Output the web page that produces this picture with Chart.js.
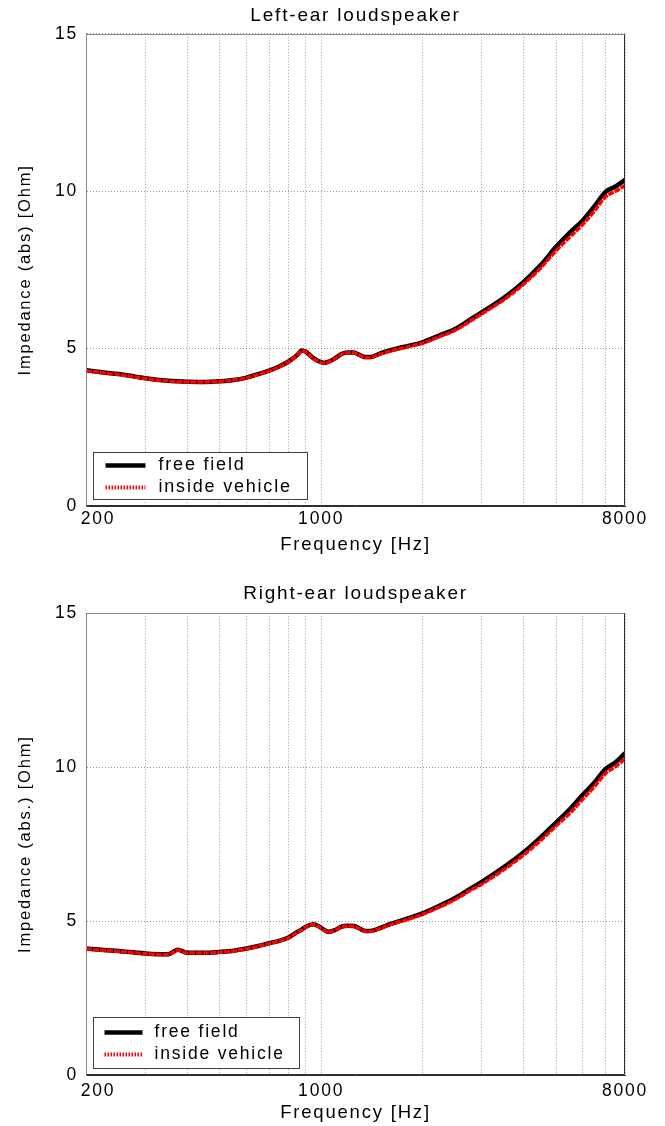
<!DOCTYPE html>
<html>
<head>
<meta charset="utf-8">
<script src="https://cdn.jsdelivr.net/npm/chart.js@4.4.1/dist/chart.umd.min.js"></script>
<style>
  html, body { margin: 0; padding: 0; background: #ffffff; }
  #wrap { position: relative; width: 665px; height: 1126px; overflow: hidden; }
  canvas { position: absolute; left: 0; }
</style>
</head>
<body>
<div id="wrap">
  <canvas id="leftEar" width="665" height="560" style="top:0px"></canvas>
  <canvas id="rightEar" width="665" height="561" style="top:565px"></canvas>
</div>
<script>
// ---------- data ----------
const frequencies = [200,225,250,280,300,350,375,400,450,500,550,600,650,700,750,800,850,875,900,950,
  1000,1025,1050,1100,1150,1200,1250,1300,1350,1400,1500,1600,1800,2000,2250,2500,2800,3000,3500,4000,
  4500,5000,5500,6000,6500,7000,7500,8000];

const leftFreeField = [4.31,4.24,4.19,4.11,4.06,3.98,3.96,3.95,3.94,3.96,4.00,4.08,4.19,4.30,4.43,4.59,4.80,4.94,4.90,4.69,
  4.57,4.55,4.58,4.69,4.83,4.88,4.88,4.80,4.73,4.73,4.85,4.94,5.08,5.20,5.42,5.62,5.95,6.15,6.62,7.12,
  7.66,8.24,8.70,9.08,9.53,9.98,10.15,10.36];
const leftInsideVehicle = [4.30,4.23,4.18,4.10,4.05,3.97,3.95,3.94,3.94,3.96,4.00,4.07,4.18,4.29,4.42,4.58,4.79,4.93,4.89,4.68,
  4.56,4.54,4.57,4.68,4.82,4.87,4.87,4.79,4.72,4.72,4.83,4.92,5.05,5.17,5.38,5.58,5.90,6.10,6.56,7.05,
  7.57,8.12,8.56,8.95,9.38,9.82,10.00,10.18];

const rightFreeField = [4.11,4.06,4.03,3.98,3.95,3.92,4.07,3.97,3.97,4.00,4.04,4.11,4.19,4.28,4.36,4.47,4.65,4.72,4.82,4.90,
  4.78,4.70,4.65,4.71,4.82,4.85,4.84,4.76,4.68,4.68,4.78,4.90,5.08,5.25,5.50,5.75,6.08,6.27,6.76,7.24,
  7.73,8.21,8.65,9.11,9.51,9.94,10.16,10.46];
const rightInsideVehicle = [4.10,4.05,4.02,3.97,3.94,3.91,4.06,3.96,3.96,3.99,4.03,4.10,4.18,4.27,4.35,4.46,4.64,4.71,4.81,4.89,
  4.77,4.69,4.64,4.70,4.81,4.84,4.83,4.75,4.67,4.67,4.76,4.88,5.05,5.22,5.46,5.70,6.02,6.20,6.68,7.15,
  7.63,8.10,8.52,8.97,9.38,9.80,10.02,10.28];

const seriesLabels = ['free field', 'inside vehicle'];
const xGridValues = [200,300,400,500,600,700,800,900,1000,2000,3000,4000,5000,6000,7000,8000];
const xLabelValues = [200,1000,8000];
const yTickValues = [0,5,10,15];
const panelTitles = ['Left-ear loudspeaker', 'Right-ear loudspeaker'];
const yAxisTitles = ['Impedance (abs) [Ohm]', 'Impedance (abs.) [Ohm]'];
const xAxisTitle = 'Frequency [Hz]';

// ---------- styling ----------
const FONT = "'Liberation Sans', Arial, Helvetica, sans-serif";
const LETTER_SPACING = '1.8px';
const FIRST_LABEL_SHIFT = 12;

const spacingPlugin = {
  id: 'spacing',
  beforeLayout(chart) { chart.ctx.letterSpacing = LETTER_SPACING; },
  beforeDraw(chart) { chart.ctx.letterSpacing = LETTER_SPACING; }
};

const framePlugin = {
  id: 'frameLegend',
  afterDraw(chart, args, opts) {
    const ctx = chart.ctx;
    const a = chart.chartArea;
    ctx.save();
    ctx.letterSpacing = LETTER_SPACING;
    // shifted first x label (200)
    const xs = chart.scales.x;
    const items = xs.getLabelItems();
    const it = items.find(i => i.label === String(xLabelValues[0]));
    if (it) {
      ctx.font = it.font.string;
      ctx.fillStyle = '#000';
      ctx.textAlign = it.options.textAlign;
      ctx.textBaseline = it.options.textBaseline;
      ctx.fillText(it.label, it.options.translation[0] + FIRST_LABEL_SHIFT, it.options.translation[1] + it.textOffset);
    }
    // frame
    ctx.lineWidth = 1;
    ctx.setLineDash([]);
    const L = Math.round(a.left) + 0.5, R = Math.round(a.right) - 0.5;
    const T = Math.round(a.top) + 0.5, B = Math.round(a.bottom) - 0.5;
    ctx.strokeStyle = '#8a8a8a';
    ctx.beginPath(); ctx.moveTo(L, B); ctx.lineTo(L, T); ctx.lineTo(R, T); ctx.stroke();
    ctx.strokeStyle = '#303030';
    ctx.beginPath(); ctx.moveTo(R, T); ctx.lineTo(R, B); ctx.lineTo(L, B); ctx.stroke();

    // legend box
    const o = opts;
    ctx.font = o.fontSize + 'px ' + FONT;
    const ds = chart.data.datasets;
    let maxW = 0;
    ds.forEach(d => { maxW = Math.max(maxW, ctx.measureText(d.label).width); });
    const bx = Math.round(a.left + o.offsetX) + 0.5;
    const by = Math.round(a.bottom - o.offsetBottom - o.height) + 0.5;
    const bw = Math.round(o.textX + maxW + o.padRight);
    ctx.fillStyle = '#ffffff';
    ctx.fillRect(bx, by, bw, o.height);
    ctx.strokeStyle = '#404040';
    ctx.lineWidth = 1;
    ctx.strokeRect(bx, by, bw, o.height);
    ds.forEach((d, i) => {
      const ry = by + o.rowY[i];
      ctx.save();
      ctx.strokeStyle = d.borderColor;
      ctx.lineWidth = o.sampleWidth[i];
      ctx.setLineDash(o.sampleDash[i]);
      ctx.beginPath();
      ctx.moveTo(bx + o.lineX[0], ry);
      ctx.lineTo(bx + o.lineX[1], ry);
      ctx.stroke();
      ctx.restore();
      ctx.fillStyle = '#000';
      ctx.textAlign = 'left';
      ctx.textBaseline = 'middle';
      ctx.fillText(d.label, bx + o.textX, ry);
    });
    ctx.restore();
  }
};

function makeChart(id, idx, freeVals, vehicleVals, lay) {
  const toPoints = vals => frequencies.map((f, i) => ({ x: f, y: vals[i] }));
  return new Chart(document.getElementById(id), {
    type: 'line',
    data: {
      datasets: [
        { label: seriesLabels[0], data: toPoints(freeVals), borderColor: '#000000', borderWidth: 4.5,
          order: 1, pointRadius: 0, cubicInterpolationMode: 'monotone', fill: false },
        { label: seriesLabels[1], data: toPoints(vehicleVals), borderColor: '#ff0000', borderWidth: 3.5,
          order: 0, borderDash: [6, 1], pointRadius: 0, cubicInterpolationMode: 'monotone', fill: false }
      ]
    },
    options: {
      responsive: false,
      animation: false,
      devicePixelRatio: 1,
      layout: { padding: { left: 0, right: 40, top: 0, bottom: 0 } },
      plugins: {
        legend: { display: false },
        tooltip: { enabled: false },
        title: {
          display: true, text: panelTitles[idx], fullSize: false, color: '#000',
          font: { family: FONT, size: 19, weight: 'normal' },
          padding: { top: lay.titleTop, bottom: lay.titleBottom }
        },
        frameLegend: lay.legend
      },
      scales: {
        x: {
          type: 'logarithmic', min: 200, max: 8000,
          afterBuildTicks: s => { s.ticks = xGridValues.map(v => ({ value: v })); },
          afterFit: s => { s.height = lay.xAxisHeight; },
          ticks: {
            autoSkip: false, maxRotation: 0, minRotation: 0, padding: lay.xTickPad,
            font: { family: FONT, size: 17.5 },
            color: c => (c.tick && c.tick.value === xLabelValues[0]) ? 'rgba(0,0,0,0)' : '#000',
            callback: v => xLabelValues.includes(v) ? String(v) : ''
          },
          grid: { color: '#9a9a9a', lineWidth: 1, drawTicks: false },
          border: { display: true, color: '#303030', width: 1, dash: [1, 2] },
          title: { display: true, text: xAxisTitle, color: '#000',
            font: { family: FONT, size: 18.5 }, padding: { top: 0, bottom: lay.xTitleBottom } }
        },
        y: {
          min: 0, max: 15,
          afterBuildTicks: s => { s.ticks = yTickValues.map(v => ({ value: v })); },
          afterFit: s => { s.width = 86; },
          ticks: { padding: 8, color: '#000', font: { family: FONT, size: 17.5 } },
          grid: { color: '#9a9a9a', lineWidth: 1, drawTicks: false },
          border: { display: true, color: '#8a8a8a', width: 1, dash: [1, 2] },
          title: { display: true, text: yAxisTitles[idx], color: '#000',
            font: { family: FONT, size: 16.5 }, padding: { top: 16, bottom: 0 } }
        }
      }
    },
    plugins: [spacingPlugin, framePlugin]
  });
}

makeChart('leftEar', 0, leftFreeField, leftInsideVehicle, {
  titleTop: 4, titleBottom: 7, xAxisHeight: 54, xTickPad: 3, xTitleBottom: 3.8,
  legend: { offsetX: 7, offsetBottom: 7, height: 47, rowY: [13, 35], lineX: [12, 52], textX: 65, padRight: 16,
    fontSize: 18, sampleWidth: [4.5, 4], sampleDash: [[], [1.5, 1.5]] }
});
makeChart('rightEar', 1, rightFreeField, rightInsideVehicle, {
  titleTop: 17, titleBottom: 8.5, xAxisHeight: 51, xTickPad: 6, xTitleBottom: 1.8,
  legend: { offsetX: 7, offsetBottom: 7, height: 51, rowY: [15, 37], lineX: [11, 49], textX: 61, padRight: 15,
    fontSize: 17.5, sampleWidth: [4.5, 4], sampleDash: [[], [1.5, 1.5]] }
});
</script>
</body>
</html>
